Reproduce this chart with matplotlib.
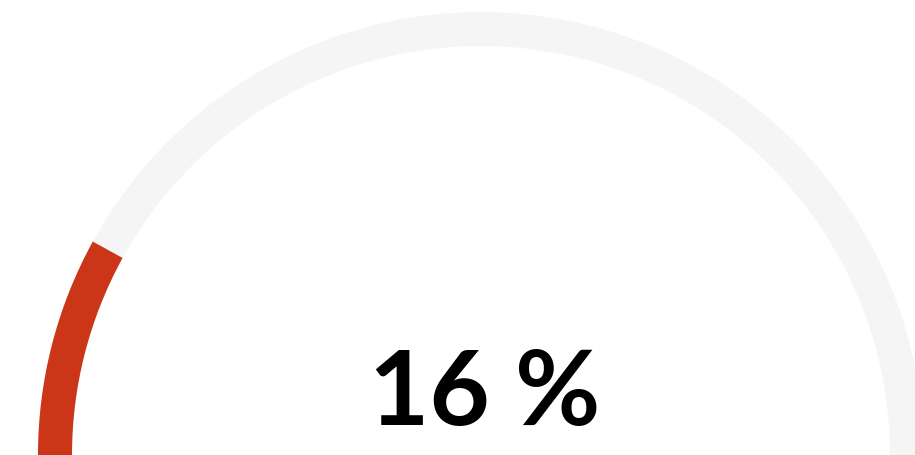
import matplotlib
matplotlib.use('Agg')
import matplotlib.pyplot as plt
from matplotlib.patches import Wedge

# gauge data
value = 16
max_value = 100
label = f'{value} %'

track_color = '#f5f5f5'
fill_color = '#cb3518'

fig = plt.figure(figsize=(9.15, 4.55), dpi=100)
ax = fig.add_axes([0, 0, 1, 1])
ax.set_xlim(0, 915)
ax.set_ylim(0, 455)
ax.set_aspect('equal')
ax.axis('off')

cx, cy = 481, 0
r_out = 443
width = 34

# background track (half circle)
ax.add_patch(Wedge((cx, cy), r_out, 0, 180, width=width, color=track_color, lw=0))

# filled part from the left
end_angle = 180 - 180 * value / max_value
ax.add_patch(Wedge((cx, cy), r_out, end_angle, 180, width=width, color=fill_color, lw=0))

ax.text(485, 60, label, ha='center', va='center', fontsize=75,
        fontweight='bold', family=['Lato', 'DejaVu Sans'], color='black')

fig.savefig('out.png', dpi=100, facecolor='white')
